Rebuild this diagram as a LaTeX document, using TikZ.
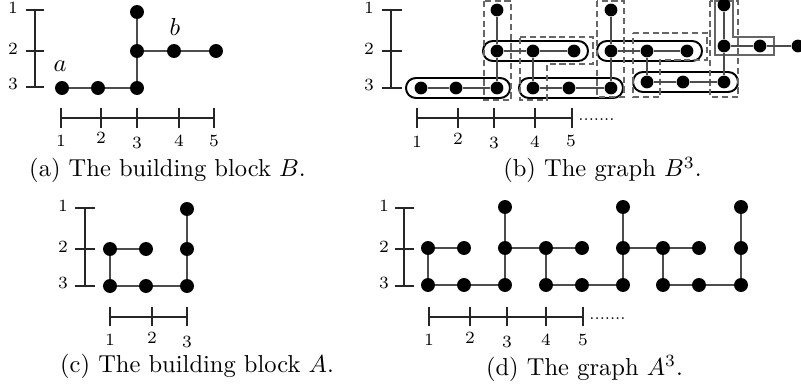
\documentclass[tikz,border=0pt]{standalone}
\begin{document}
\begin{tikzpicture}[x=0.408pt,y=-0.408pt,
  dot/.style={circle,fill=black,inner sep=0pt,minimum size=5.7pt},
  sdot/.style={circle,fill=black,inner sep=0pt,minimum size=5.2pt},
  edge/.style={draw=black!70,line width=0.5pt},
  axis/.style={draw=black!85,line width=0.45pt},
  lbl/.style={font=\fontsize{7}{8}\selectfont,inner sep=0pt},
  dots/.style={font=\fontsize{6.5}{7}\selectfont,inner sep=0pt,anchor=base west},
  captext/.style={font=\fontsize{10}{12}\selectfont,inner sep=0pt},
  grp/.style={draw=black,line width=0.8pt,rounded corners=4pt},
  lgrp/.style={draw=black!60,line width=0.9pt},
  dgrp/.style={draw=black!60,line width=0.5pt,dash pattern=on 2.5pt off 1.5pt}]
\useasboundingbox (0,0) rectangle (801,388);

% ---------- (a) ----------
\draw[axis] (35,10) -- (35,87);
\foreach \y in {10,51,87} \draw[axis] (26,\y) -- (44,\y);
\node[lbl] (ay1) at (13,8) {1};
\node[lbl] (ay2) at (13,49) {2};
\node[lbl] (ay3) at (13,84) {3};
\node[dot] (a1) at (62,88) {};
\node[dot] (a2) at (98,88) {};
\node[dot] (a3) at (137,88) {};
\node[dot] (a4) at (137,51) {};
\node[dot] (a5) at (137,12) {};
\node[dot] (a6) at (174,51) {};
\node[dot] (a7) at (216,51) {};
\draw[edge] (a1) -- (a2) -- (a3) -- (a4) -- (a5);
\draw[edge] (a4) -- (a6) -- (a7);
\node[captext] (la) at (60,66) {$a$};
\node[captext] (lb) at (175,27) {$b$};
\draw[axis] (61,118) -- (214,118);
\foreach \x in {61,101,137,179,214} \draw[axis] (\x,108) -- (\x,128);
\node[lbl] (ax1) at (61,141) {1};
\node[lbl] (ax2) at (101,138) {2};
\node[lbl] (ax3) at (137,142.5) {3};
\node[lbl] (ax4) at (179,140.5) {4};
\node[lbl] (ax5) at (214,141) {5};
\node[captext] (capa) at (167.5,170) {(a) The building block $B$.};

% ---------- (b) ----------
\draw[axis] (391,10) -- (391,88);
\foreach \y in {10,51,88} \draw[axis] (382,\y) -- (402,\y);
\node[lbl] (by1) at (369,8) {1};
\node[lbl] (by2) at (369,49) {2};
\node[lbl] (by3) at (369,85) {3};
% groups
\draw[grp] (406,78) rectangle (510,98);
\draw[grp] (483,41) rectangle (588,61);
\draw[grp] (519,78) rectangle (623,98);
\draw[grp] (597,41) rectangle (702,61);
\draw[grp] (633,72) rectangle (738,92);
\draw[lgrp] (715,1) -- (733,1) -- (733,37) -- (774,37) -- (774,55) -- (715,55) -- cycle;
\draw[dgrp] (484,1) rectangle (511,100);
\draw[dgrp] (520,37) -- (593,37) -- (593,64) -- (547,64) -- (547,100) -- (520,100) -- cycle;
\draw[dgrp] (597,1) rectangle (624,97);
\draw[dgrp] (633,33) -- (707,33) -- (707,60) -- (660,60) -- (660,97) -- (633,97) -- cycle;
\draw[dgrp] (710,1) rectangle (738,97);
% vertices
\node[sdot] (p1) at (421,88) {};
\node[sdot] (p2) at (456,88) {};
\node[sdot] (p3) at (497,88) {};
\node[sdot] (p4) at (497,51) {};
\node[sdot] (p5) at (497,10) {};
\node[sdot] (p6) at (533,51) {};
\node[sdot] (p7) at (574,51) {};
\node[sdot] (q1) at (533,88) {};
\node[sdot] (q2) at (569,88) {};
\node[sdot] (q3) at (611,88) {};
\node[sdot] (q4) at (611,51) {};
\node[sdot] (q5) at (611,10) {};
\node[sdot] (q6) at (647,51) {};
\node[sdot] (q7) at (687,51) {};
\node[sdot] (r1) at (647,82) {};
\node[sdot] (r2) at (683,82) {};
\node[sdot] (r3) at (724,82) {};
\node[sdot] (r4) at (724,46) {};
\node[sdot] (r5) at (724,5) {};
\node[sdot] (r6) at (760,46) {};
\node[sdot] (r7) at (798,46) {};
\draw[edge] (p1) -- (p2) -- (p3) -- (p4) -- (p5);
\draw[edge] (p4) -- (p6) -- (p7);
\draw[edge] (p6) -- (q1);
\draw[edge] (q1) -- (q2) -- (q3) -- (q4) -- (q5);
\draw[edge] (q4) -- (q6) -- (q7);
\draw[edge] (q6) -- (r1);
\draw[edge] (r1) -- (r2) -- (r3) -- (r4) -- (r5);
\draw[edge] (r4) -- (r6) -- (r7);
\draw[axis] (417,118) -- (572,118);
\foreach \x in {417,458,494,535,572} \draw[axis] (\x,108) -- (\x,128);
\node[lbl] (bx1) at (417,141.5) {1};
\node[lbl] (bx2) at (458,139) {2};
\node[lbl] (bx3) at (494,143) {3};
\node[lbl] (bx4) at (535,141.5) {4};
\node[lbl] (bx5) at (571,141) {5};
\node[dots] (bdots) at (578,121) {.......};
\node[captext] (capb) at (602.5,170) {(b) The graph $B^3$.};

% ---------- (c) ----------
\draw[axis] (85,208) -- (85,286);
\foreach \y in {208,249,286} \draw[axis] (75,\y) -- (95,\y);
\node[lbl] (cy1) at (63,206) {1};
\node[lbl] (cy2) at (63,247) {2};
\node[lbl] (cy3) at (63,283) {3};
\node[dot] (c1) at (110,249) {};
\node[dot] (c2) at (146,249) {};
\node[dot] (c3) at (110,286) {};
\node[dot] (c4) at (146,286) {};
\node[dot] (c5) at (187,286) {};
\node[dot] (c6) at (187,249) {};
\node[dot] (c7) at (187,209) {};
\draw[edge] (c1) -- (c2);
\draw[edge] (c1) -- (c3) -- (c4) -- (c5) -- (c6) -- (c7);
\draw[axis] (110,317) -- (187,317);
\foreach \x in {110,152,187} \draw[axis] (\x,307) -- (\x,326);
\node[lbl] (cx1) at (110,340) {1};
\node[lbl] (cx2) at (152,338) {2};
\node[lbl] (cx3) at (187,342) {3};
\node[captext] (capc) at (197,366.5) {(c) The building block $A$.};

% ---------- (d) ----------
\draw[axis] (404,208) -- (404,286);
\foreach \y in {208,249,286} \draw[axis] (395,\y) -- (414,\y);
\node[lbl] (dy1) at (384,206) {1};
\node[lbl] (dy2) at (384,247) {2};
\node[lbl] (dy3) at (384,283) {3};
\foreach \i/\x in {1/428,2/464,3/505,4/546,5/582,6/623,7/663,8/699,9/741} {
  \node[dot] (m\i) at (\x,248) {};
  \node[dot] (b\i) at (\x,285) {};
}
\node[dot] (t3) at (505,207) {};
\node[dot] (t6) at (623,207) {};
\node[dot] (t9) at (741,207) {};
\draw[edge] (m1) -- (m2);
\draw[edge] (m1) -- (b1) -- (b2) -- (b3) -- (m3) -- (t3);
\draw[edge] (m3) -- (m4) -- (m5);
\draw[edge] (m4) -- (b4) -- (b5) -- (b6) -- (m6) -- (t6);
\draw[edge] (m6) -- (m7) -- (m8);
\draw[edge] (m7) -- (b7) -- (b8) -- (b9) -- (m9) -- (t9);
\draw[axis] (429,317) -- (583,317);
\foreach \x in {429,470,507,546,583} \draw[axis] (\x,307) -- (\x,326);
\node[lbl] (dx1) at (429,340) {1};
\node[lbl] (dx2) at (470,338) {2};
\node[lbl] (dx3) at (507,342) {3};
\node[lbl] (dx4) at (546,340) {4};
\node[lbl] (dx5) at (583,340) {5};
\node[dots] (ddots) at (589,320) {.......};
\node[captext] (capd) at (584.5,368.5) {(d) The graph $A^3$.};
\end{tikzpicture}
\end{document}
